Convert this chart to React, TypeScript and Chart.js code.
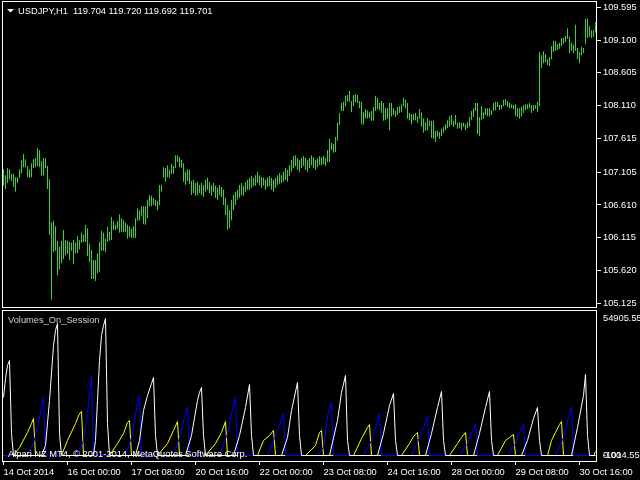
import { useEffect, useRef } from "react";
import { Chart, registerables } from "chart.js";

Chart.register(...registerables);

const FONT = '"Liberation Sans", Arial, sans-serif';
const FONT_SIZE = 9.3;
const BAR_COLOR = "#22e022";

// ---- price panel (H1 bars, index 0 = 14 Oct 2014 16:00) ----
const highs = [
  107.15,107.06,107.17,107.15,107.08,107.08,107.03,107.03,107.15,107.29,
  107.38,107.30,107.20,107.15,107.24,107.30,107.32,107.47,107.44,107.27,
  107.32,107.32,107.20,107.00,106.35,106.37,106.29,106.07,105.98,106.07,
  106.23,106.08,106.07,106.05,106.04,106.08,106.04,106.14,106.08,106.19,
  106.16,106.31,106.26,106.02,105.93,105.78,105.78,105.88,106.05,106.22,
  106.19,106.10,106.28,106.20,106.43,106.37,106.31,106.37,106.47,106.41,
  106.38,106.34,106.31,106.29,106.25,106.29,106.41,106.56,106.53,106.59,
  106.59,106.59,106.69,106.76,106.75,106.71,106.69,106.67,106.91,106.91,
  107.18,107.17,107.21,107.14,107.23,107.20,107.36,107.36,107.33,107.29,
  107.24,107.11,107.15,107.14,106.97,106.99,106.94,106.96,106.91,
  106.94,106.91,106.99,107.02,106.96,106.91,106.94,106.90,106.87,106.91,
  106.88,106.84,106.72,106.61,106.53,106.69,106.76,106.81,106.84,106.91,
  106.94,106.90,106.96,106.99,107.02,107.05,107.02,107.06,107.11,107.06,
  107.03,107.02,106.99,107.03,107.05,107.02,106.99,107.02,107.06,107.09,
  107.06,107.11,107.17,107.14,107.21,107.29,107.35,107.36,107.32,107.29,
  107.32,107.35,107.32,107.29,107.32,107.36,107.33,107.29,107.32,107.35,
  107.33,107.35,107.32,107.44,107.61,107.55,107.53,107.64,107.85,108.00,
  108.15,108.17,108.26,108.27,108.33,108.18,108.27,108.29,108.27,108.18,
  108.17,108.01,108.06,108.04,108.01,108.03,108.09,108.26,108.23,108.15,
  108.18,108.15,108.07,108.07,108.15,108.15,108.07,108.03,108.09,108.10,
  108.13,108.23,108.20,108.15,108.00,107.98,107.98,108.00,107.95,108.06,
  108.01,107.92,107.86,107.92,107.88,107.88,107.88,107.73,107.73,107.71,
  107.76,107.79,107.83,107.89,107.95,107.97,107.88,107.97,107.85,107.86,
  107.85,107.85,107.83,107.86,107.94,108.03,108.07,108.15,108.15,107.94,
  108.10,108.01,108.07,108.07,108.07,108.04,108.15,108.17,108.17,108.12,
  108.12,108.20,108.21,108.18,108.15,108.13,108.12,108.13,108.07,108.07,
  108.09,108.12,108.13,108.13,108.15,108.12,108.12,108.12,108.17,108.92,
  108.87,108.93,108.89,108.81,108.84,109.01,109.09,109.09,109.04,109.06,
  109.13,109.13,109.16,109.28,109.15,109.06,109.03,109.33,108.98,108.92,
  109.00,108.98,109.42,109.43,109.31,109.25,109.25,109.37,
];

const lows = [
  106.90,106.85,106.94,107.00,106.97,106.88,106.81,106.94,107.02,107.09,
  107.18,107.18,107.03,107.02,107.03,107.17,107.18,107.20,107.18,107.05,
  107.06,107.17,106.85,106.16,105.18,105.90,105.92,105.55,105.64,105.73,
  105.79,105.85,105.87,105.78,105.92,105.72,105.88,105.88,105.94,106.04,
  106.05,106.05,105.84,105.75,105.49,105.49,105.46,105.58,105.60,105.92,
  105.92,105.90,106.05,106.07,106.08,106.23,106.23,106.25,106.19,106.20,
  106.20,106.20,106.10,106.13,106.11,106.11,106.11,106.37,106.38,106.44,
  106.32,106.31,106.41,106.59,106.59,106.61,106.59,106.53,106.61,106.81,
  107.02,106.96,107.03,107.02,107.08,107.08,107.17,107.26,107.18,107.17,
  106.96,106.91,106.97,106.93,106.76,106.79,106.75,106.76,106.79,
  106.76,106.73,106.81,106.84,106.79,106.75,106.81,106.72,106.69,106.76,
  106.73,106.61,106.46,106.23,106.26,106.38,106.53,106.61,106.69,106.72,
  106.76,106.75,106.81,106.84,106.84,106.87,106.90,106.90,106.94,106.91,
  106.87,106.90,106.84,106.88,106.90,106.84,106.81,106.87,106.91,106.93,
  106.94,106.96,106.99,106.96,107.05,107.11,107.17,107.20,107.14,107.11,
  107.17,107.20,107.14,107.11,107.17,107.21,107.17,107.14,107.18,107.21,
  107.21,107.23,107.20,107.26,107.26,107.44,107.40,107.41,107.58,107.82,
  108.03,108.03,108.10,108.17,108.17,108.01,108.10,108.17,108.15,108.07,
  107.83,107.82,107.92,107.91,107.92,107.88,107.88,108.03,108.06,108.04,
  108.00,107.88,107.89,107.91,107.74,107.95,107.97,107.94,107.97,108.00,
  108.01,108.10,108.07,107.91,107.89,107.83,107.89,107.89,107.85,107.91,
  107.79,107.70,107.73,107.74,107.80,107.62,107.61,107.56,107.64,107.61,
  107.65,107.70,107.74,107.77,107.79,107.82,107.79,107.82,107.76,107.77,
  107.74,107.79,107.74,107.77,107.79,107.89,107.94,108.03,107.68,107.65,
  107.89,107.91,107.97,107.95,107.95,107.97,108.03,108.04,108.09,108.04,
  108.06,108.10,108.12,108.09,108.07,108.07,108.06,107.95,107.94,107.91,
  107.95,108.00,108.04,108.06,108.07,108.00,108.03,108.06,108.01,108.10,
  108.68,108.75,108.77,108.72,108.71,108.81,108.92,108.94,108.95,108.97,
  109.01,109.04,109.07,109.12,108.90,108.94,108.90,108.94,108.81,108.75,
  108.87,108.90,109.04,109.13,109.15,109.13,109.15,109.21,
];

const priceTicks = [109.595, 109.1, 108.605, 108.11, 107.615, 107.105, 106.61, 106.115, 105.62, 105.125];
const priceTickLabels = ["109.595", "109.100", "108.605", "108.110", "107.615", "107.105", "106.610", "106.115", "105.620", "105.125"];
const priceMin = 105.069;
const priceMax = 109.675;

// ---- Volumes_On_Session panel (bar index / cumulative session volume) ----
const whiteIdx = [0,1,2,3,4,5, 19,21,23,25,26,27,28,29, 45,46,47,48,49,50,51,52,53, 66,68,70,72,74,75,76,77, 91,94,97,98,99,100,101, 115,118,121,123,124,125, 139,142,144,147,148,149, 163,167,169,171,172,173, 187,190,193,195,196,197, 211,214,217,219,220,221, 235,238,241,243,244,245, 259,262,265,267,268,269, 284,287,290,291,292,293,296];
const whiteVal = [23246,30862,36072,38076,8818,0, 0,4008,22044,44088,50100,52906,8818,0, 0,6012,22044,38076,48096,52104,54905.55,12826,0, 0,6012,18036,24048,28858,31262,8016,0, 0,8016,22044,25250,27254,8016,0, 0,8016,19238,28457,8016,0, 0,7214,18036,29258,8016,0, 0,14028,25250,32064,6012,0, 0,8818,20040,24850,6012,0, 0,8818,19238,25651,6012,0, 0,8818,19238,25651,6012,0, 0,6012,14830,19238,6012,0, 0,11222,24048,32465,8016,0,0];

const blueIdx = [0,12,15,17,19,20,21, 37,40,42,43,44,45, 61,64,66,68,69, 85,88,90,92,93, 108,112,114,116,117, 132,137,140,141, 157,160,162,164,165, 180,184,186,188,189, 204,208,210,212,213, 228,232,234,236,237, 252,256,258,260,261, 276,280,282,284,285, 296];
const blueVal = [0,0,4810,11222,19238,23246,0, 0,6012,16834,25250,31663,0, 0,7214,16834,24048,0, 0,7214,14028,19639,0, 0,8818,16834,23246,0, 0,10020,16834,0, 0,3206,16032,21242,0, 0,6012,11222,16834,0, 0,7214,11222,15631,0, 0,4810,9218,12826,0, 0,4810,9218,12425,0, 0,7214,14028,19639,0, 0];

const yellowIdx = [0,5,8,12,14,15,16, 29,32,36,38,39,40, 53,57,60,62,63,64, 77,82,85,87,88, 101,106,109,111,112, 127,130,133,135,136, 151,156,158,159,160, 175,179,182,183,184, 199,203,205,207,208, 223,227,229,231,232, 247,251,253,255,256, 272,274,276,278,279,280, 295,296];
const yellowVal = [0,0,3206,9218,12826,14830,0, 0,6012,12826,16834,17635,0, 0,4810,8818,13226,14028,0, 0,4810,10020,13627,0, 0,4810,9218,13627,0, 0,6012,8016,10020,0, 0,4008,9218,10020,0, 0,6814,11222,12425,0, 0,4810,7615,9218,0, 0,4810,7214,9218,0, 0,6012,7214,8417,0, 0,6012,9218,12425,13627,0, 0,1603];

const volTicks = [0, 0, 54905.55];
const volTickLabels = ["0.00", "-1014.55", "54905.55"];
const volMin = -2204;
const volMax = 57911;

const dateTickIdx = [0, 32, 64, 96, 128, 160, 192, 224, 256, 288];
const dateLabels = ["14 Oct 2014", "16 Oct 00:00", "17 Oct 08:00", "20 Oct 16:00", "22 Oct 00:00", "23 Oct 08:00", "24 Oct 16:00", "28 Oct 00:00", "29 Oct 08:00", "30 Oct 16:00"];

const xMin = -0.75;
const xMax = 296.75;

const titleText = "USDJPY,H1  119.704 119.720 119.692 119.701";
const indicatorName = "Volumes_On_Session";
const copyrightText = "Alpari NZ MT4, \u00A9 2001-2014, MetaQuotes Software Corp.";

const framePlugin = {
  id: "frame",
  afterDraw(chart: any) {
    const { left, top, right, bottom } = chart.chartArea;
    const ctx = chart.ctx;
    ctx.save();
    ctx.strokeStyle = "#ffffff";
    ctx.lineWidth = 1;
    ctx.strokeRect(left + 0.5, top - 0.5, right - left - 1, bottom - top + 1);
    ctx.restore();
  },
};

const mainTextPlugin = {
  id: "mainText",
  afterDraw(chart: any) {
    const ctx = chart.ctx;
    ctx.save();
    ctx.fillStyle = "#ffffff";
    ctx.beginPath();
    ctx.moveTo(7, 9);
    ctx.lineTo(14, 9);
    ctx.lineTo(10.5, 12.5);
    ctx.closePath();
    ctx.fill();
    ctx.font = `${FONT_SIZE}px ${FONT}`;
    ctx.textBaseline = "middle";
    ctx.textAlign = "left";
    ctx.fillText(titleText, 18, 11);
    ctx.restore();
  },
};

const volTextPlugin = {
  id: "volText",
  afterDatasetsDraw(chart: any) {
    const ctx = chart.ctx;
    ctx.save();
    ctx.font = `${FONT_SIZE}px ${FONT}`;
    ctx.textBaseline = "middle";
    ctx.textAlign = "left";
    ctx.fillStyle = "#d0d0d0";
    ctx.fillText(indicatorName, 8, 320);
    ctx.fillStyle = "#ffffff";
    ctx.fillText(copyrightText, 8, 454.5);
    ctx.restore();
  },
};

function pts(idx: number[], val: number[]) {
  return idx.map((x, k) => ({ x, y: val[k] }));
}

export default function App() {
  const mainRef = useRef<HTMLCanvasElement>(null);
  const volRef = useRef<HTMLCanvasElement>(null);

  useEffect(() => {
    const tickFont = { family: FONT, size: FONT_SIZE };

    const main = new Chart(mainRef.current as HTMLCanvasElement, {
      type: "bar",
      data: {
        datasets: [
          {
            data: highs.map((h, i) => ({ x: i, y: [lows[i], h] })) as any,
            backgroundColor: BAR_COLOR,
            borderWidth: 0,
            barThickness: 1,
            inflateAmount: 0,
            grouped: false,
          } as any,
        ],
      },
      options: {
        responsive: false,
        animation: false,
        events: [],
        layout: { padding: { left: 2, top: 2, right: 0, bottom: 173 } },
        plugins: { legend: { display: false }, tooltip: { enabled: false } },
        scales: {
          x: { type: "linear", display: false, min: xMin, max: xMax, offset: false },
          y: {
            position: "right",
            min: priceMin,
            max: priceMax,
            beginAtZero: false,
            afterBuildTicks: (s: any) => {
              s.ticks = priceTicks.map((v) => ({ value: v }));
            },
            afterFit: (s: any) => {
              s.width = 43;
              s.paddingTop = 0;
              s.paddingBottom = 0;
            },
            grid: { drawOnChartArea: false, drawTicks: true, tickLength: 4, color: "#ffffff", lineWidth: 1 },
            border: { display: false },
            ticks: {
              color: "#ffffff",
              padding: 2,
              autoSkip: false,
              font: tickFont,
              callback: (_v: any, i: number) => priceTickLabels[i],
            },
          } as any,
        },
      },
      plugins: [framePlugin, mainTextPlugin],
    });

    const lineBase = { showLine: true, pointRadius: 0, borderWidth: 1, tension: 0, fill: false };
    const vol = new Chart(volRef.current as HTMLCanvasElement, {
      type: "scatter",
      data: {
        datasets: [
          { ...lineBase, data: pts(whiteIdx, whiteVal), borderColor: "#ffffff" },
          { ...lineBase, data: pts(blueIdx, blueVal), borderColor: "#0000ff" },
          { ...lineBase, data: pts(yellowIdx, yellowVal), borderColor: "#ffff00" },
        ] as any,
      },
      options: {
        responsive: false,
        animation: false,
        events: [],
        layout: { padding: { left: 2, top: 311, right: 0, bottom: 0 } },
        plugins: { legend: { display: false }, tooltip: { enabled: false } },
        scales: {
          x: {
            type: "linear",
            position: "bottom",
            min: xMin,
            max: xMax,
            afterBuildTicks: (s: any) => {
              s.ticks = dateTickIdx.map((v) => ({ value: v }));
            },
            afterFit: (s: any) => {
              s.height = 19;
              s.paddingLeft = 0;
              s.paddingRight = 0;
            },
            grid: { drawOnChartArea: false, drawTicks: true, tickLength: 4, color: "#ffffff", lineWidth: 1 },
            border: { display: false },
            ticks: {
              color: "#ffffff",
              padding: 2,
              align: "start",
              maxRotation: 0,
              minRotation: 0,
              autoSkip: false,
              font: tickFont,
              callback: (_v: any, i: number) => dateLabels[i],
            },
          } as any,
          y: {
            type: "linear",
            position: "right",
            min: volMin,
            max: volMax,
            afterBuildTicks: (s: any) => {
              s.ticks = volTicks.map((v) => ({ value: v }));
            },
            afterFit: (s: any) => {
              s.width = 43;
              s.paddingTop = 0;
              s.paddingBottom = 0;
            },
            grid: { display: false, drawTicks: false },
            border: { display: false },
            ticks: {
              color: "#ffffff",
              padding: 6,
              autoSkip: false,
              font: tickFont,
              callback: (_v: any, i: number) => volTickLabels[i],
            },
          } as any,
        },
      },
      plugins: [framePlugin, volTextPlugin],
    });

    return () => {
      main.destroy();
      vol.destroy();
    };
  }, []);

  const canvasStyle: any = { position: "absolute", left: 0, top: 0, width: 640, height: 480 };
  return (
    <div style={{ position: "absolute", left: 0, top: 0, width: 640, height: 480, background: "#000000", overflow: "hidden" }}>
      <canvas ref={mainRef} width={640} height={480} style={canvasStyle} />
      <canvas ref={volRef} width={640} height={480} style={canvasStyle} />
    </div>
  );
}
